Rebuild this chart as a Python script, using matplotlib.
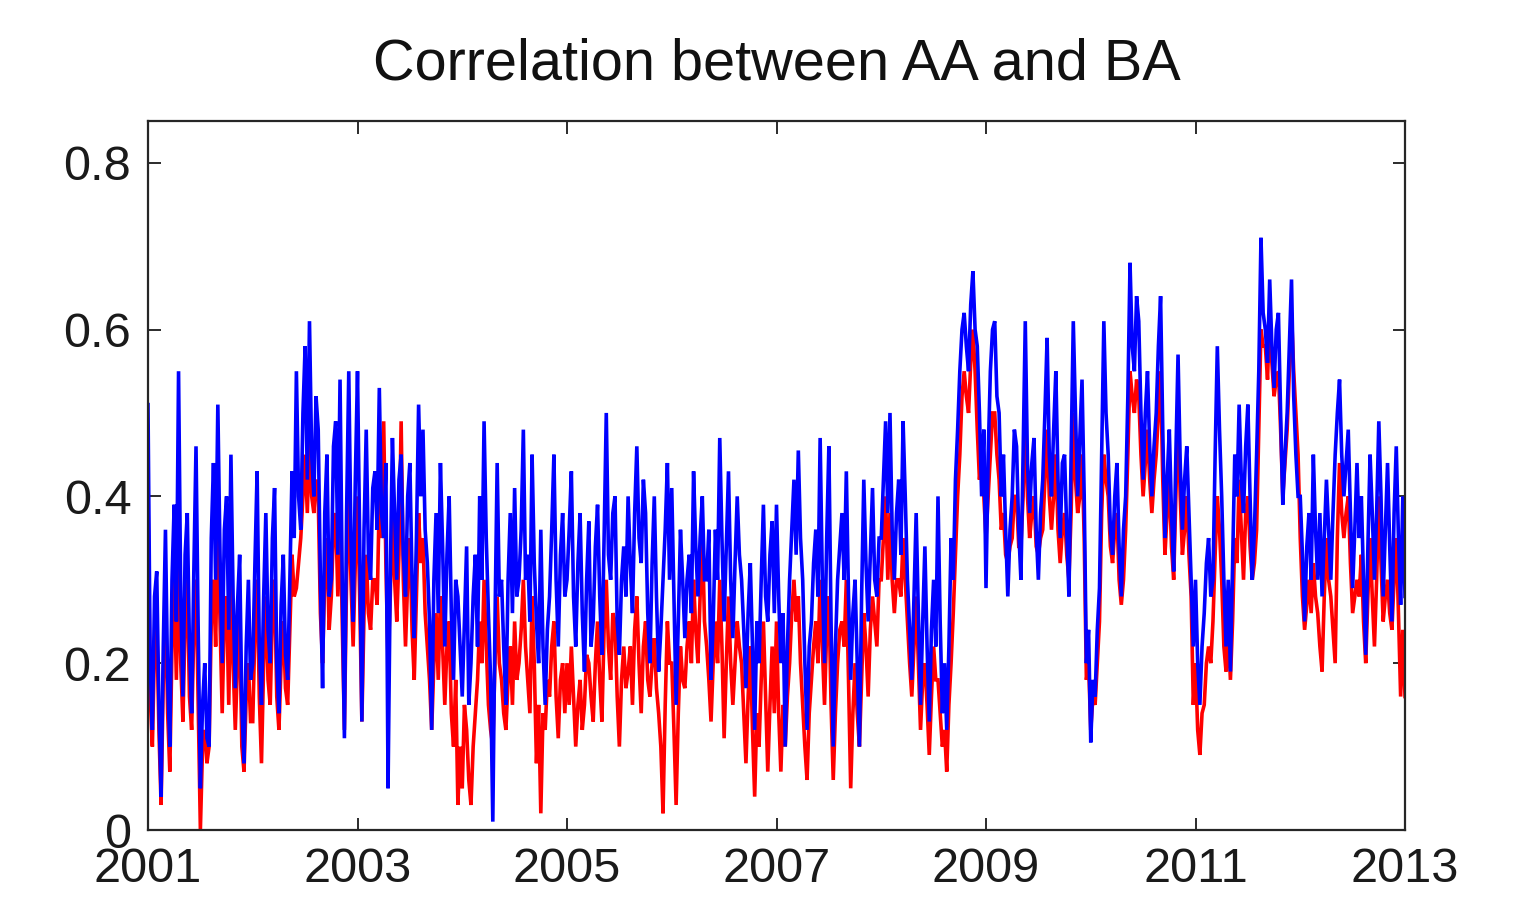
import numpy as np
import matplotlib
matplotlib.use("Agg")
import matplotlib.pyplot as plt

plt.rcParams['font.family'] = ['Liberation Sans', 'DejaVu Sans']

# ---- data: four readings per month (48 per year), 2001.0 .. 2013.0 ----
years = list(range(2001, 2013))
points_per_year = 48

blue_2001 = [0.51, 0.20, 0.12, 0.28, 0.31, 0.15, 0.04, 0.22, 0.36, 0.18, 0.10, 0.30, 0.39, 0.25, 0.55, 0.28,
             0.16, 0.33, 0.38, 0.22, 0.14, 0.31, 0.46, 0.24, 0.05, 0.15, 0.20, 0.11, 0.10, 0.35, 0.44, 0.30,
             0.51, 0.33, 0.20, 0.36, 0.40, 0.24, 0.45, 0.28, 0.17, 0.27, 0.33, 0.15, 0.08, 0.22, 0.30, 0.18]
red_2001 = [0.40, 0.16, 0.10, 0.22, 0.25, 0.12, 0.03, 0.18, 0.28, 0.14, 0.07, 0.22, 0.30, 0.18, 0.33, 0.20,
            0.13, 0.25, 0.30, 0.16, 0.12, 0.24, 0.30, 0.15, 0.00, 0.10, 0.12, 0.08, 0.10, 0.25, 0.30, 0.22,
            0.38, 0.25, 0.14, 0.26, 0.28, 0.15, 0.30, 0.20, 0.12, 0.20, 0.25, 0.10, 0.07, 0.16, 0.20, 0.13]
blue_2002 = [0.20, 0.32, 0.43, 0.22, 0.15, 0.28, 0.38, 0.24, 0.20, 0.35, 0.41, 0.20, 0.14, 0.27, 0.33, 0.21,
             0.18, 0.30, 0.43, 0.35, 0.55, 0.40, 0.36, 0.50, 0.58, 0.42, 0.61, 0.45, 0.40, 0.52, 0.48, 0.30,
             0.17, 0.38, 0.45, 0.28, 0.30, 0.46, 0.49, 0.33, 0.54, 0.30, 0.11, 0.38, 0.55, 0.35, 0.25, 0.42]
red_2002 = [0.13, 0.24, 0.30, 0.16, 0.08, 0.20, 0.28, 0.18, 0.15, 0.26, 0.30, 0.16, 0.12, 0.20, 0.25, 0.17,
            0.15, 0.24, 0.33, 0.28, 0.29, 0.32, 0.35, 0.40, 0.45, 0.38, 0.47, 0.40, 0.38, 0.42, 0.40, 0.26,
            0.20, 0.30, 0.35, 0.24, 0.28, 0.36, 0.38, 0.28, 0.40, 0.25, 0.12, 0.30, 0.42, 0.30, 0.22, 0.32]
blue_2003 = [0.55, 0.35, 0.13, 0.36, 0.48, 0.33, 0.30, 0.41, 0.43, 0.36, 0.53, 0.38, 0.35, 0.44, 0.05, 0.30,
             0.47, 0.38, 0.30, 0.42, 0.45, 0.33, 0.28, 0.40, 0.44, 0.30, 0.23, 0.35, 0.51, 0.40, 0.48, 0.36,
             0.32, 0.25, 0.12, 0.30, 0.38, 0.26, 0.44, 0.34, 0.22, 0.33, 0.40, 0.26, 0.18, 0.30, 0.28, 0.22]
red_2003 = [0.40, 0.28, 0.13, 0.26, 0.33, 0.26, 0.24, 0.30, 0.30, 0.27, 0.40, 0.35, 0.49, 0.32, 0.20, 0.28,
            0.38, 0.30, 0.25, 0.33, 0.49, 0.30, 0.22, 0.30, 0.35, 0.24, 0.18, 0.28, 0.38, 0.32, 0.35, 0.26,
            0.22, 0.18, 0.12, 0.20, 0.26, 0.18, 0.28, 0.22, 0.15, 0.22, 0.25, 0.14, 0.10, 0.18, 0.03, 0.10]
blue_2004 = [0.16, 0.25, 0.34, 0.15, 0.20, 0.28, 0.33, 0.22, 0.40, 0.30, 0.49, 0.35, 0.26, 0.18, 0.01, 0.25,
             0.44, 0.28, 0.30, 0.22, 0.15, 0.30, 0.38, 0.26, 0.41, 0.28, 0.30, 0.36, 0.48, 0.30, 0.33, 0.25,
             0.45, 0.32, 0.25, 0.20, 0.36, 0.22, 0.15, 0.24, 0.28, 0.36, 0.45, 0.30, 0.22, 0.33, 0.38, 0.28]
red_2004 = [0.05, 0.15, 0.12, 0.06, 0.03, 0.10, 0.14, 0.18, 0.25, 0.20, 0.30, 0.22, 0.15, 0.12, 0.10, 0.20,
            0.28, 0.20, 0.18, 0.14, 0.12, 0.18, 0.22, 0.15, 0.25, 0.18, 0.20, 0.24, 0.30, 0.22, 0.18, 0.14,
            0.28, 0.20, 0.08, 0.15, 0.02, 0.14, 0.12, 0.18, 0.16, 0.22, 0.25, 0.16, 0.11, 0.18, 0.20, 0.14]
blue_2005 = [0.30, 0.36, 0.43, 0.28, 0.22, 0.32, 0.38, 0.26, 0.19, 0.30, 0.37, 0.22, 0.25, 0.34, 0.39, 0.28,
             0.21, 0.35, 0.50, 0.33, 0.30, 0.38, 0.40, 0.25, 0.21, 0.30, 0.34, 0.28, 0.40, 0.32, 0.26, 0.38,
             0.46, 0.35, 0.32, 0.42, 0.38, 0.26, 0.20, 0.32, 0.40, 0.28, 0.19, 0.24, 0.30, 0.36, 0.44, 0.30]
red_2005 = [0.20, 0.15, 0.22, 0.16, 0.10, 0.15, 0.18, 0.12, 0.15, 0.21, 0.20, 0.16, 0.13, 0.20, 0.25, 0.18,
            0.13, 0.24, 0.30, 0.22, 0.18, 0.26, 0.25, 0.16, 0.10, 0.18, 0.22, 0.17, 0.19, 0.22, 0.15, 0.24,
            0.28, 0.20, 0.14, 0.22, 0.25, 0.18, 0.16, 0.20, 0.23, 0.17, 0.14, 0.10, 0.02, 0.15, 0.25, 0.20]
blue_2006 = [0.41, 0.28, 0.15, 0.25, 0.36, 0.30, 0.23, 0.30, 0.33, 0.26, 0.43, 0.34, 0.28, 0.35, 0.40, 0.30,
             0.30, 0.36, 0.18, 0.25, 0.36, 0.30, 0.47, 0.35, 0.25, 0.34, 0.43, 0.30, 0.23, 0.32, 0.40, 0.33,
             0.30, 0.24, 0.17, 0.26, 0.32, 0.22, 0.12, 0.25, 0.20, 0.30, 0.39, 0.28, 0.25, 0.33, 0.37, 0.26]
red_2006 = [0.20, 0.12, 0.03, 0.14, 0.22, 0.18, 0.17, 0.22, 0.25, 0.20, 0.30, 0.24, 0.20, 0.28, 0.36, 0.25,
            0.22, 0.18, 0.13, 0.20, 0.25, 0.20, 0.30, 0.22, 0.11, 0.20, 0.28, 0.20, 0.15, 0.20, 0.25, 0.22,
            0.20, 0.14, 0.08, 0.16, 0.22, 0.12, 0.04, 0.14, 0.10, 0.18, 0.25, 0.16, 0.07, 0.15, 0.22, 0.14]
blue_2007 = [0.39, 0.28, 0.20, 0.26, 0.10, 0.22, 0.30, 0.36, 0.42, 0.33, 0.455, 0.35, 0.30, 0.20, 0.12, 0.22,
             0.25, 0.32, 0.36, 0.28, 0.47, 0.30, 0.20, 0.35, 0.46, 0.25, 0.10, 0.22, 0.30, 0.34, 0.38, 0.30,
             0.43, 0.28, 0.18, 0.26, 0.30, 0.20, 0.10, 0.28, 0.42, 0.32, 0.25, 0.33, 0.41, 0.30, 0.28, 0.35]
red_2007 = [0.25, 0.14, 0.07, 0.15, 0.10, 0.16, 0.20, 0.26, 0.30, 0.25, 0.28, 0.20, 0.15, 0.10, 0.06, 0.14,
            0.18, 0.22, 0.25, 0.20, 0.30, 0.22, 0.15, 0.24, 0.28, 0.15, 0.06, 0.14, 0.20, 0.24, 0.25, 0.22,
            0.30, 0.18, 0.05, 0.14, 0.20, 0.14, 0.10, 0.18, 0.26, 0.22, 0.16, 0.24, 0.28, 0.25, 0.22, 0.30]
blue_2008 = [0.35, 0.42, 0.49, 0.38, 0.50, 0.36, 0.30, 0.38, 0.42, 0.33, 0.49, 0.40, 0.30, 0.24, 0.18, 0.28,
             0.38, 0.26, 0.15, 0.25, 0.34, 0.22, 0.13, 0.24, 0.30, 0.22, 0.40, 0.25, 0.14, 0.20, 0.12, 0.22,
             0.35, 0.30, 0.42, 0.48, 0.55, 0.60, 0.62, 0.58, 0.55, 0.63, 0.67, 0.60, 0.58, 0.50, 0.40, 0.48]
red_2008 = [0.30, 0.35, 0.40, 0.30, 0.38, 0.30, 0.26, 0.30, 0.30, 0.28, 0.35, 0.30, 0.25, 0.20, 0.16, 0.22,
            0.28, 0.20, 0.12, 0.18, 0.20, 0.15, 0.09, 0.16, 0.22, 0.18, 0.18, 0.14, 0.10, 0.12, 0.07, 0.15,
            0.20, 0.26, 0.33, 0.40, 0.45, 0.52, 0.55, 0.52, 0.50, 0.56, 0.60, 0.55, 0.48, 0.42, 0.45, 0.40]
blue_2009 = [0.29, 0.45, 0.55, 0.60, 0.61, 0.52, 0.50, 0.40, 0.45, 0.36, 0.28, 0.36, 0.40, 0.48, 0.46, 0.36,
             0.30, 0.45, 0.61, 0.44, 0.38, 0.44, 0.47, 0.36, 0.30, 0.38, 0.42, 0.50, 0.59, 0.45, 0.40, 0.48,
             0.55, 0.42, 0.35, 0.44, 0.45, 0.36, 0.28, 0.45, 0.61, 0.50, 0.40, 0.47, 0.54, 0.40, 0.20, 0.24]
red_2009 = [0.35, 0.40, 0.45, 0.50, 0.50, 0.45, 0.42, 0.36, 0.38, 0.33, 0.32, 0.34, 0.35, 0.40, 0.40, 0.34,
            0.34, 0.40, 0.50, 0.40, 0.35, 0.38, 0.40, 0.34, 0.33, 0.35, 0.36, 0.42, 0.48, 0.40, 0.36, 0.40,
            0.45, 0.36, 0.32, 0.36, 0.38, 0.33, 0.30, 0.38, 0.50, 0.42, 0.38, 0.40, 0.45, 0.35, 0.18, 0.20]
blue_2010 = [0.105, 0.18, 0.16, 0.24, 0.29, 0.45, 0.61, 0.50, 0.45, 0.36, 0.33, 0.40, 0.44, 0.34, 0.28, 0.36,
             0.40, 0.52, 0.68, 0.58, 0.55, 0.64, 0.61, 0.50, 0.42, 0.50, 0.55, 0.46, 0.40, 0.46, 0.50, 0.58,
             0.64, 0.48, 0.35, 0.42, 0.48, 0.38, 0.31, 0.45, 0.57, 0.44, 0.36, 0.42, 0.46, 0.38, 0.30, 0.22]
red_2010 = [0.12, 0.16, 0.15, 0.20, 0.25, 0.38, 0.45, 0.42, 0.40, 0.34, 0.32, 0.36, 0.38, 0.30, 0.27, 0.30,
            0.36, 0.45, 0.55, 0.52, 0.50, 0.54, 0.52, 0.45, 0.40, 0.44, 0.48, 0.42, 0.38, 0.42, 0.45, 0.50,
            0.55, 0.42, 0.33, 0.38, 0.42, 0.34, 0.30, 0.40, 0.50, 0.40, 0.33, 0.36, 0.40, 0.33, 0.28, 0.15]
blue_2011 = [0.30, 0.20, 0.15, 0.22, 0.26, 0.32, 0.35, 0.28, 0.30, 0.45, 0.58, 0.48, 0.40, 0.30, 0.22, 0.30,
             0.19, 0.32, 0.45, 0.40, 0.51, 0.42, 0.38, 0.46, 0.51, 0.40, 0.30, 0.36, 0.45, 0.55, 0.71, 0.62,
             0.60, 0.56, 0.66, 0.58, 0.53, 0.60, 0.62, 0.50, 0.39, 0.45, 0.50, 0.58, 0.66, 0.52, 0.45, 0.40]
red_2011 = [0.20, 0.12, 0.09, 0.14, 0.15, 0.20, 0.22, 0.20, 0.25, 0.33, 0.40, 0.36, 0.30, 0.22, 0.19, 0.24,
            0.18, 0.25, 0.35, 0.32, 0.42, 0.36, 0.30, 0.38, 0.40, 0.34, 0.30, 0.32, 0.36, 0.48, 0.60, 0.58,
            0.58, 0.54, 0.62, 0.56, 0.52, 0.54, 0.55, 0.48, 0.40, 0.44, 0.48, 0.55, 0.62, 0.55, 0.50, 0.45]
blue_2012 = [0.40, 0.33, 0.25, 0.34, 0.38, 0.30, 0.45, 0.36, 0.30, 0.38, 0.28, 0.35, 0.42, 0.36, 0.30, 0.38,
             0.45, 0.50, 0.54, 0.45, 0.40, 0.44, 0.48, 0.38, 0.29, 0.36, 0.44, 0.35, 0.40, 0.30, 0.21, 0.34,
             0.45, 0.38, 0.30, 0.38, 0.49, 0.40, 0.28, 0.36, 0.44, 0.34, 0.25, 0.38, 0.46, 0.35, 0.27, 0.40]
red_2012 = [0.35, 0.28, 0.24, 0.27, 0.30, 0.26, 0.32, 0.28, 0.26, 0.22, 0.19, 0.28, 0.35, 0.30, 0.28, 0.24,
            0.20, 0.35, 0.44, 0.38, 0.35, 0.38, 0.40, 0.32, 0.26, 0.28, 0.30, 0.28, 0.33, 0.25, 0.20, 0.28,
            0.35, 0.28, 0.22, 0.30, 0.40, 0.32, 0.25, 0.28, 0.30, 0.26, 0.24, 0.30, 0.35, 0.26, 0.16, 0.24]
blue_end = [0.28]
red_end = [0.16]

blue_by_year = [blue_2001, blue_2002, blue_2003, blue_2004, blue_2005, blue_2006,
                blue_2007, blue_2008, blue_2009, blue_2010, blue_2011, blue_2012]
red_by_year = [red_2001, red_2002, red_2003, red_2004, red_2005, red_2006,
               red_2007, red_2008, red_2009, red_2010, red_2011, red_2012]

title_text = "Correlation between AA and BA"
xtick_vals = [2001, 2003, 2005, 2007, 2009, 2011, 2013]
ytick_vals = [0, 0.2, 0.4, 0.6, 0.8]
ytick_labels = ["0", "0.2", "0.4", "0.6", "0.8"]

# build time axis year by year
t_list, b_list, r_list = [], [], []
for yr, bvals, rvals in zip(years, blue_by_year, red_by_year):
    n = min(len(bvals), len(rvals))
    t_list.extend(yr + np.arange(n) / n)
    b_list.extend(bvals[:n])
    r_list.extend(rvals[:n])
t_list.append(years[-1] + 1)
b_list.extend(blue_end)
r_list.extend(red_end)

fig = plt.figure(figsize=(15.22, 9.01), dpi=100)
ax = fig.add_axes([148 / 1522, 1 - 830 / 901, (1405 - 148) / 1522, (830 - 121) / 901])

ax.plot(t_list, r_list, color='#ff0000', lw=2.6, solid_joinstyle='miter')
ax.plot(t_list, b_list, color='#0000ff', lw=2.6, solid_joinstyle='miter')

ax.set_xlim(2001, 2013)
ax.set_ylim(0, 0.85)
ax.set_xticks(xtick_vals)
ax.set_xticklabels([str(v) for v in xtick_vals])
ax.set_yticks(ytick_vals)
ax.set_yticklabels(ytick_labels)

ax.tick_params(axis='both', direction='in', length=9, width=1.3, labelsize=35,
               top=True, right=True, pad=12, colors='#1a1a1a')
for s in ax.spines.values():
    s.set_linewidth(1.6)
    s.set_color('#262626')

ax.set_title(title_text, fontsize=41.5, pad=30, color='#111111')

fig.savefig("out.png", dpi=100)
